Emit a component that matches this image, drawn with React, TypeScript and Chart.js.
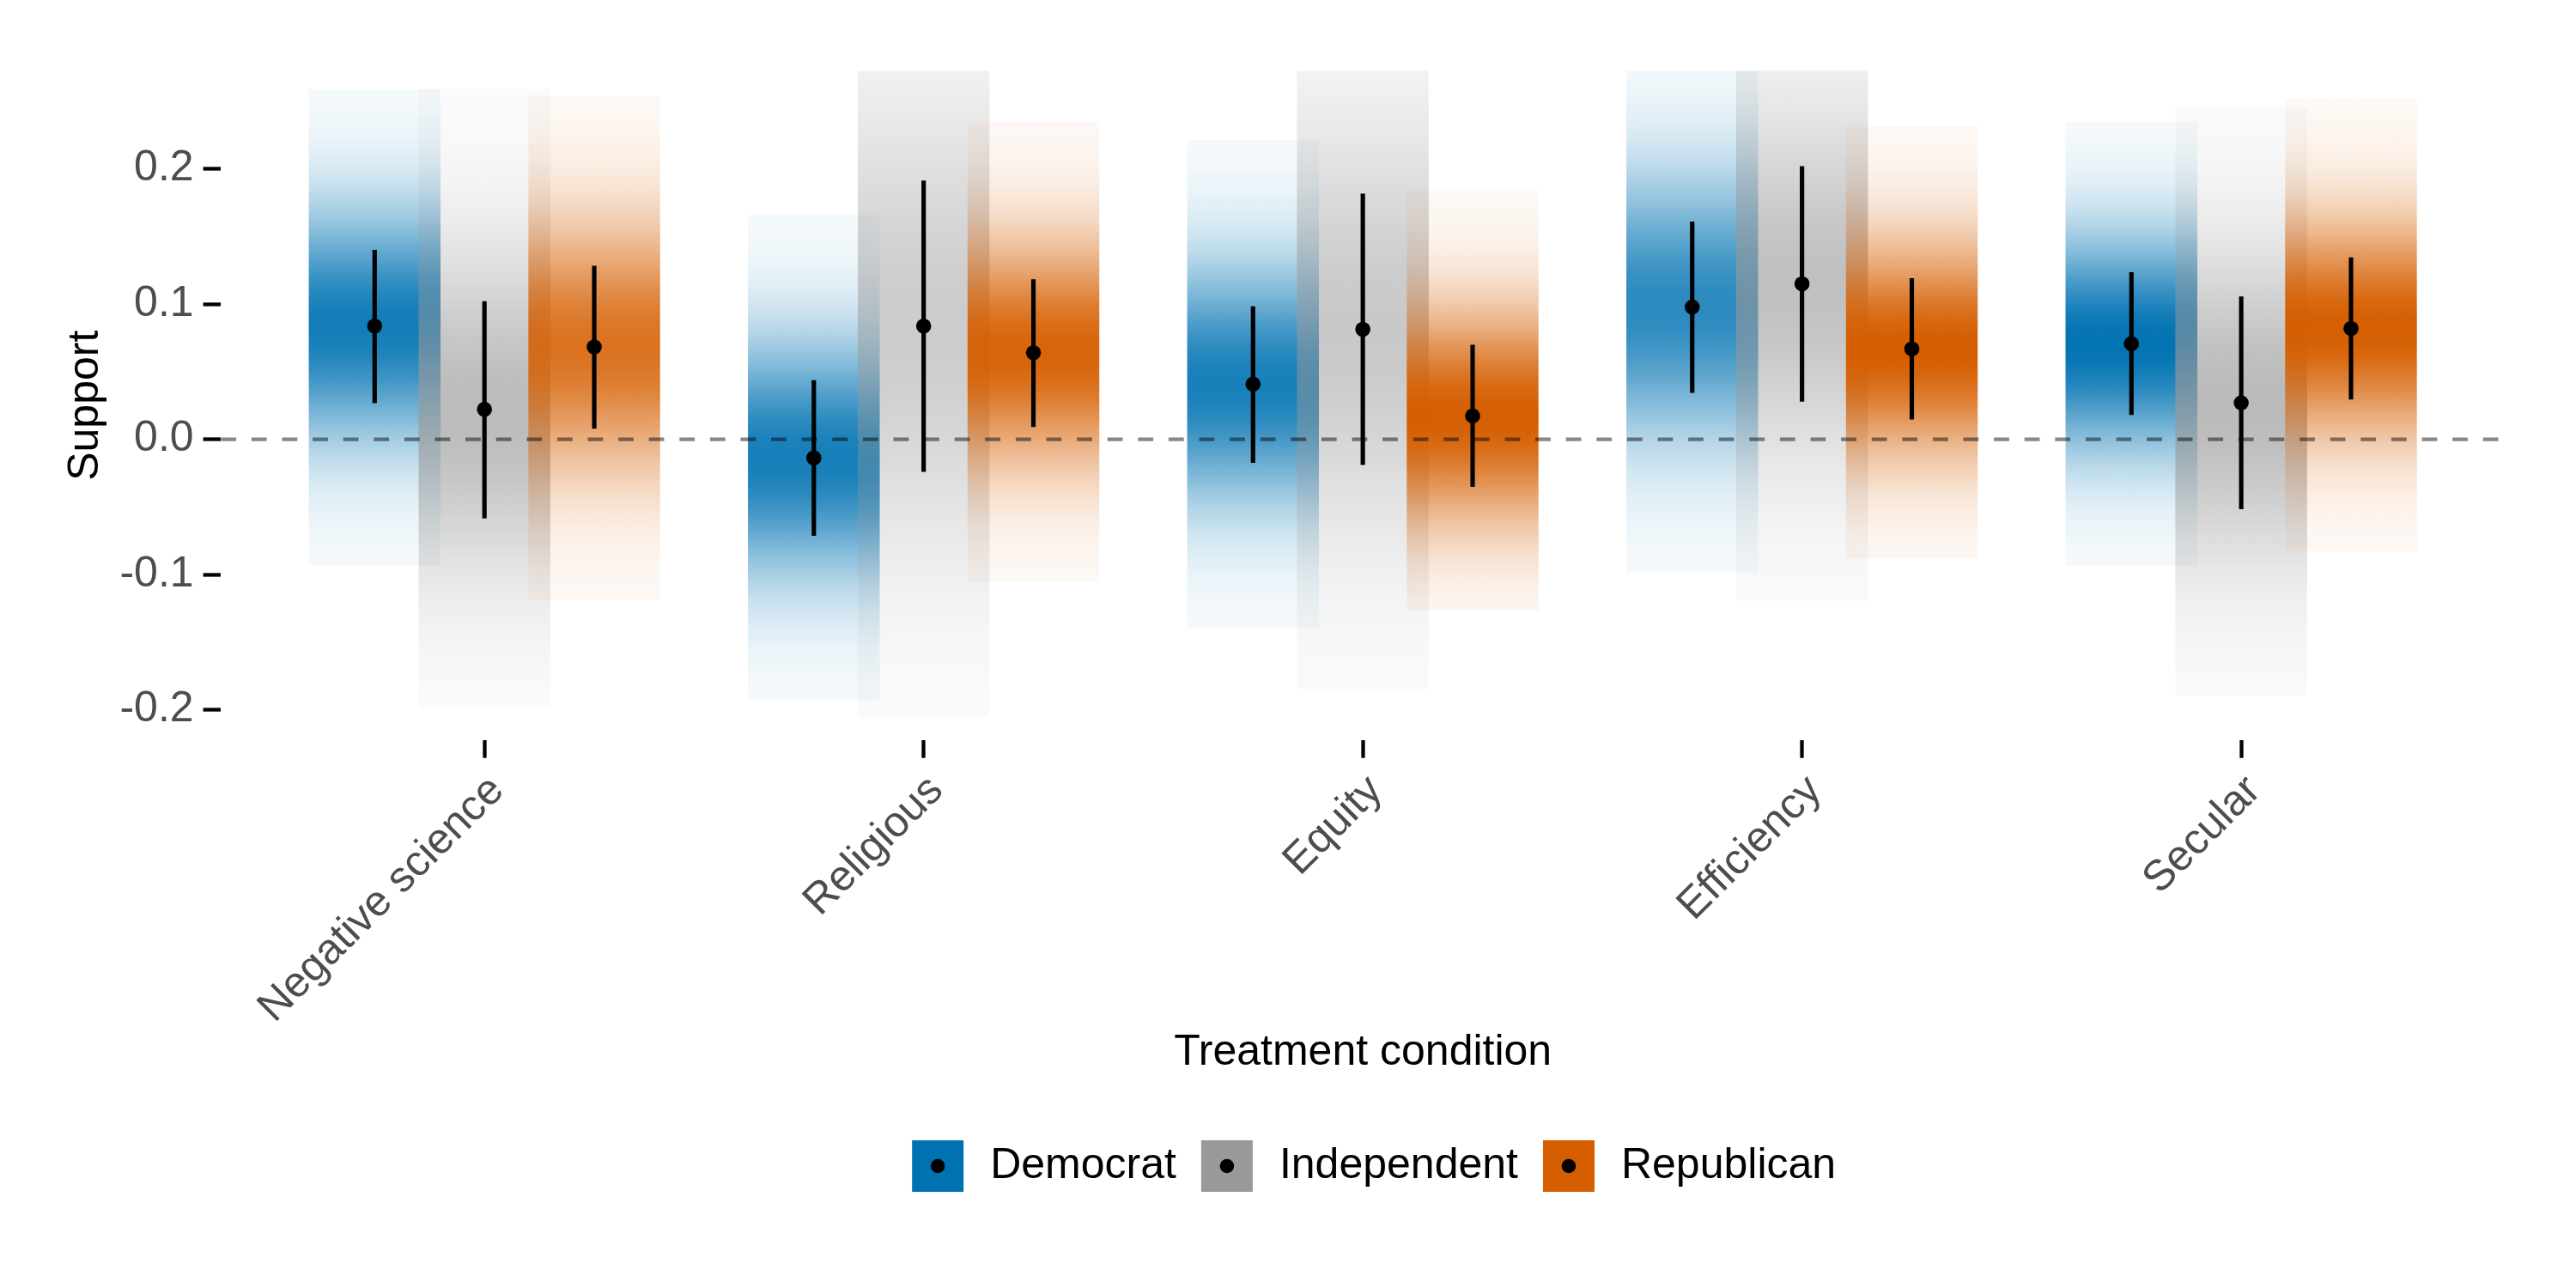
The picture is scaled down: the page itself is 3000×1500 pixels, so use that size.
import React, { useEffect, useRef } from "react";
import { Chart, registerables } from "chart.js";

Chart.register(...registerables);

// ---------------- data ----------------
const categories = ["Negative science", "Religious", "Equity", "Efficiency", "Secular"];
const parties = ["Democrat", "Independent", "Republican"];
const partyColors = ["#0072B2", "#999999", "#D55E00"];

// point estimates
const demMean = [0.0837, -0.0137, 0.0408, 0.0978, 0.0707];
const indMean = [0.0222, 0.0837, 0.0813, 0.115, 0.027];
const repMean = [0.0683, 0.0641, 0.0173, 0.0669, 0.082];

// interval bounds (66%)
const demLower = [0.027, -0.0711, -0.0171, 0.0345, 0.0183];
const demUpper = [0.1399, 0.0435, 0.0982, 0.1608, 0.1233];
const indLower = [-0.0583, -0.0239, -0.0188, 0.028, -0.0515];
const indUpper = [0.102, 0.1911, 0.1815, 0.2018, 0.1055];
const repLower = [0.0081, 0.0094, -0.035, 0.0149, 0.0297];
const repUpper = [0.1281, 0.1182, 0.0697, 0.1189, 0.1344];

// extent of each gradient slab
const demSlabMin = [-0.0935, -0.1932, -0.14, -0.0986, -0.0935];
const demSlabMax = [0.259, 0.1663, 0.2214, 0.28, 0.2351];
const indSlabMin = [-0.198, -0.2053, -0.1846, -0.1193, -0.1898];
const indSlabMax = [0.259, 0.28, 0.28, 0.28, 0.2455];
const repSlabMin = [-0.119, -0.1057, -0.1262, -0.0883, -0.0829];
const repSlabMax = [0.254, 0.2351, 0.1836, 0.2317, 0.2522];

const yTicks = [-0.2, -0.1, 0, 0.1, 0.2];
const yLimits = [-0.2225, 0.2725];
const referenceValue = 0;
const intervalZ = 0.954; // 66% interval half-width in standard deviations

const xTitle = "Treatment condition";
const yTitle = "Support";

// ---------------- helpers ----------------
const means = [demMean, indMean, repMean];
const lowers = [demLower, indLower, repLower];
const uppers = [demUpper, indUpper, repUpper];
const slabMins = [demSlabMin, indSlabMin, repSlabMin];
const slabMaxs = [demSlabMax, indSlabMax, repSlabMax];

const dodge = [-0.25, 0, 0.25];
const FONT = "'Liberation Sans', Arial, Helvetica, sans-serif";

function hexToRgb(hex: string) {
  const h = hex.replace("#", "");
  return [parseInt(h.slice(0, 2), 16), parseInt(h.slice(2, 4), 16), parseInt(h.slice(4, 6), 16)];
}

const sdOf = (p: number, i: number) => (uppers[p][i] - lowers[p][i]) / (2 * intervalZ);
const allSd: number[] = [];
for (let p = 0; p < 3; p++) for (let i = 0; i < categories.length; i++) allSd.push(sdOf(p, i));
const minSd = Math.min(...allSd);

function slabGradient(ctx: any, p: number) {
  const chart = ctx.chart;
  const [r, g, b] = hexToRgb(partyColors[p]);
  if (ctx.type !== "data" || !chart.chartArea || !chart.scales || !chart.scales.y) {
    return `rgba(${r},${g},${b},0.3)`;
  }
  const i = ctx.dataIndex;
  const y = chart.scales.y;
  const lo = slabMins[p][i];
  const hi = slabMaxs[p][i];
  const mu = means[p][i];
  const sd = sdOf(p, i);
  const y0 = y.getPixelForValue(lo);
  const y1 = y.getPixelForValue(hi);
  const grad = chart.ctx.createLinearGradient(0, y0, 0, y1);
  const N = 120;
  for (let k = 0; k <= N; k++) {
    const t = k / N;
    const v = lo + (hi - lo) * t;
    const z = (v - mu) / sd;
    const a = 0.03 + 0.97 * (minSd / sd) * Math.exp(-0.5 * z * z);
    grad.addColorStop(t, `rgba(${r},${g},${b},${a.toFixed(4)})`);
  }
  return grad;
}

const legendPlugin = {
  id: "partyLegend",
  afterDraw(chart: any) {
    const { ctx, chartArea } = chart;
    ctx.save();
    ctx.font = `50px ${FONT}`;
    const keySize = 60;
    const keyGap = 31;
    const itemGap = 29;
    const widths = parties.map((p) => ctx.measureText(p).width);
    const total =
      widths.reduce((s, w) => s + w, 0) + parties.length * (keySize + keyGap) + (parties.length - 1) * itemGap;
    let x = (chartArea.left + chartArea.right) / 2 + 13 - total / 2;
    const cy = chart.height - 142;
    parties.forEach((p, idx) => {
      ctx.fillStyle = partyColors[idx];
      ctx.fillRect(x, cy - keySize / 2, keySize, keySize);
      ctx.fillStyle = "#000";
      ctx.beginPath();
      ctx.arc(x + keySize / 2, cy, 8.3, 0, Math.PI * 2);
      ctx.fill();
      ctx.textAlign = "left";
      ctx.textBaseline = "middle";
      ctx.fillText(p, x + keySize + keyGap, cy);
      x += keySize + keyGap + widths[idx] + itemGap;
    });
    ctx.restore();
  },
};

// ---------------- component ----------------
export default function App() {
  const ref = useRef<HTMLCanvasElement>(null);

  useEffect(() => {
    const canvas = ref.current;
    if (!canvas) return;

    const datasets: any[] = [];

    // gradient slabs
    parties.forEach((party, p) => {
      datasets.push({
        type: "bar",
        label: party + " slab",
        data: categories.map((_, i) => ({ x: i + dodge[p], y: [slabMins[p][i], slabMaxs[p][i]] })),
        backgroundColor: (ctx: any) => slabGradient(ctx, p),
        borderWidth: 0,
        borderSkipped: false,
        grouped: false,
        categoryPercentage: 1,
        barPercentage: 1.2,
        order: 12 - p,
      });
    });

    // zero reference line
    datasets.push({
      type: "line",
      label: "reference",
      data: [
        { x: -0.6, y: referenceValue },
        { x: categories.length - 0.4, y: referenceValue },
      ],
      borderColor: "rgba(0,0,0,0.47)",
      borderWidth: 4.3,
      borderDash: [17.8, 17.8],
      borderCapStyle: "butt",
      pointRadius: 0,
      fill: false,
      order: 5,
    });

    // intervals
    parties.forEach((party, p) => {
      datasets.push({
        type: "bar",
        label: party + " interval",
        data: categories.map((_, i) => ({ x: i + dodge[p], y: [lowers[p][i], uppers[p][i]] })),
        backgroundColor: "#000",
        borderWidth: 0,
        borderSkipped: false,
        grouped: false,
        barThickness: 4.5,
        order: 2,
      });
    });

    // points
    parties.forEach((party, p) => {
      datasets.push({
        type: "line",
        label: party,
        data: categories.map((_, i) => ({ x: i + dodge[p], y: means[p][i] })),
        showLine: false,
        pointRadius: 8.8,
        pointHoverRadius: 8.8,
        pointBackgroundColor: "#000",
        pointBorderWidth: 0,
        order: 1,
      });
    });

    const chart = new Chart(canvas, {
      type: "bar",
      data: { datasets },
      plugins: [legendPlugin],
      options: {
        responsive: false,
        devicePixelRatio: 1,
        animation: false,
        events: [],
        layout: { padding: { left: 0, top: 82.5, right: 83, bottom: 200 } },
        plugins: { legend: { display: false }, tooltip: { enabled: false } },
        scales: {
          x: {
            type: "linear",
            offset: false,
            min: -0.6,
            max: categories.length - 0.4,
            afterBuildTicks: (scale: any) => {
              scale.ticks = categories.map((_, i) => ({ value: i }));
            },
            afterFit: (scale: any) => {
              scale.height = 438;
            },
            grid: {
              offset: false,
              drawOnChartArea: false,
              drawTicks: true,
              tickLength: 20.7,
              tickWidth: 4.3,
              tickColor: "#000",
            },
            border: { display: false },
            ticks: {
              autoSkip: false,
              maxRotation: 45,
              minRotation: 45,
              padding: 9,
              labelOffset: 15,
              color: "#4D4D4D",
              font: { family: FONT, size: 50 },
              callback: (value: any) => categories[Math.round(value)] ?? "",
            },
            title: {
              display: true,
              text: xTitle,
              color: "#000",
              font: { family: FONT, size: 50 },
              padding: { top: 0, bottom: 44 },
            },
          },
          y: {
            type: "linear",
            min: yLimits[0],
            max: yLimits[1],
            afterBuildTicks: (scale: any) => {
              scale.ticks = yTicks.map((v) => ({ value: v }));
            },
            afterFit: (scale: any) => {
              scale.width = 257.3;
            },
            grid: {
              drawOnChartArea: false,
              drawTicks: true,
              tickLength: 20.7,
              tickWidth: 4.3,
              tickColor: "#000",
            },
            border: { display: false },
            ticks: {
              padding: 11,
              color: "#4D4D4D",
              font: { family: FONT, size: 50 },
              callback: (value: any) => Number(value).toFixed(1),
            },
            title: {
              display: true,
              text: yTitle,
              color: "#000",
              font: { family: FONT, size: 50 },
              padding: { top: 70.5, bottom: 0 },
            },
          },
        },
      } as any,
    } as any);

    return () => chart.destroy();
  }, []);

  return (
    <div style={{ position: "fixed", left: 0, top: 0, width: 3000, height: 1500, background: "#fff" }}>
      <canvas ref={ref} width={3000} height={1500} style={{ width: 3000, height: 1500, display: "block" }} />
    </div>
  );
}
